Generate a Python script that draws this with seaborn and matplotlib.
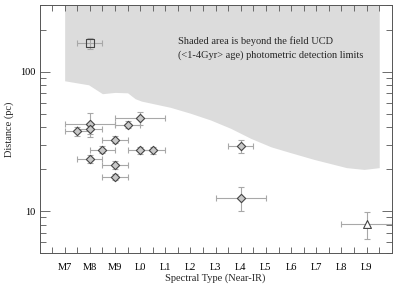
import numpy as np
import pandas as pd
import seaborn as sns
import matplotlib.pyplot as plt
from matplotlib.ticker import FixedLocator, NullFormatter

# spectral type coded as number: M7=7 ... M9=9, L0=10 ... L9=19
spt = [8.0, 8.0, 7.5, 9.5, 10.0, 9.0, 8.5, 10.0, 10.5, 8.0, 9.0, 9.0, 14.0, 14.0, 8.0, 19.0]
dist = [42.4, 39.0, 37.3, 41.7, 46.5, 32.6, 27.6, 27.3, 27.3, 23.7, 21.5, 17.6, 29.2, 12.5, 160.0, 8.1]
spt_err = [1.0, 0.5, 0.5, 0.5, 1.0, 0.5, 0.5, 0.5, 0.5, 0.5, 0.5, 0.5, 0.5, 1.0, 0.5, 1.0]
dist_err = [8.5, 3.0, 3.0, 2.5, 5.0, 2.0, 1.5, 1.5, 1.5, 1.5, 1.5, 1.0, 3.0, 2.5, 14.0, 1.8]
kind = ["d"] * 14 + ["s", "t"]

# lower edge of the shaded (undetectable) zone
lim_spt = [7.0, 7.95, 8.5, 9.0, 9.5, 9.8, 10.05, 11.2, 12.0, 12.8, 13.6, 14.4, 15.2, 15.9, 16.9, 18.2, 18.9, 19.5]
lim_dist = [86, 80.5, 69.5, 71, 70.5, 64, 61.5, 55.5, 50.3, 45, 39.2, 33.2, 28.9, 26.5, 23.5, 20.5, 19.9, 20.5]

tick_labels = ["M7", "M8", "M9", "L0", "L1", "L2", "L3", "L4", "L5", "L6", "L7", "L8", "L9"]

df = pd.DataFrame({"spt": spt, "dist": dist, "kind": kind})

sns.set_theme(style="ticks")
plt.rcParams["font.family"] = ["Liberation Serif", "DejaVu Serif"]

fig = plt.figure(figsize=(3.99, 2.85), dpi=100)
ax = fig.add_axes([0.099, 0.112, 0.883, 0.870])

ax.fill_between(lim_spt, lim_dist, 300, color="#dcdcdc", lw=0, zorder=0)

ax.errorbar(spt, dist, xerr=spt_err, yerr=dist_err, fmt="none",
            ecolor="#a8a8a8", elinewidth=0.8, capsize=2, capthick=0.8, zorder=2)

marker_style = {"d": ("D", 18, "#c8c8c8"), "s": ("s", 30, "none"), "t": ("^", 32, "white")}
for k, (m, sz, fc) in marker_style.items():
    sns.scatterplot(data=df[df["kind"] == k], x="spt", y="dist", marker=m, s=sz,
                    facecolor=fc, edgecolor="#444444", linewidth=0.8,
                    legend=False, ax=ax, zorder=3)

ax.set_yscale("log")
ax.set_xlim(6, 20)
ax.set_ylim(5, 300)

ax.xaxis.set_major_locator(FixedLocator(range(7, 20)))
ax.set_xticklabels(tick_labels)
ax.xaxis.set_minor_locator(FixedLocator(np.arange(6.5, 20, 1.0)))
ax.yaxis.set_major_locator(FixedLocator([10, 100]))
ax.set_yticklabels(["10", "100"])
ax.yaxis.set_minor_formatter(NullFormatter())

ax.tick_params(which="both", direction="in", top=True, right=True,
               colors="#555555", labelcolor="black", labelsize=7.5, width=0.6)
ax.tick_params(axis="x", which="both", length=4, pad=7)
ax.tick_params(axis="y", which="major", length=7, pad=3)
ax.tick_params(axis="y", which="minor", length=4)
for s in ax.spines.values():
    s.set_color("#555555")
    s.set_linewidth(0.7)

ax.set_xlabel("Spectral Type (Near-IR)", fontsize=7.5, labelpad=1)
ax.set_ylabel("Distance (pc)", fontsize=7.5, labelpad=4)

ax.text(0.393, 0.827,
        "Shaded area is beyond the field UCD\n(<1-4Gyr> age) photometric detection limits",
        transform=ax.transAxes, fontsize=7.5, va="center", ha="left", linespacing=1.5)

fig.savefig("out.png", dpi=100)
